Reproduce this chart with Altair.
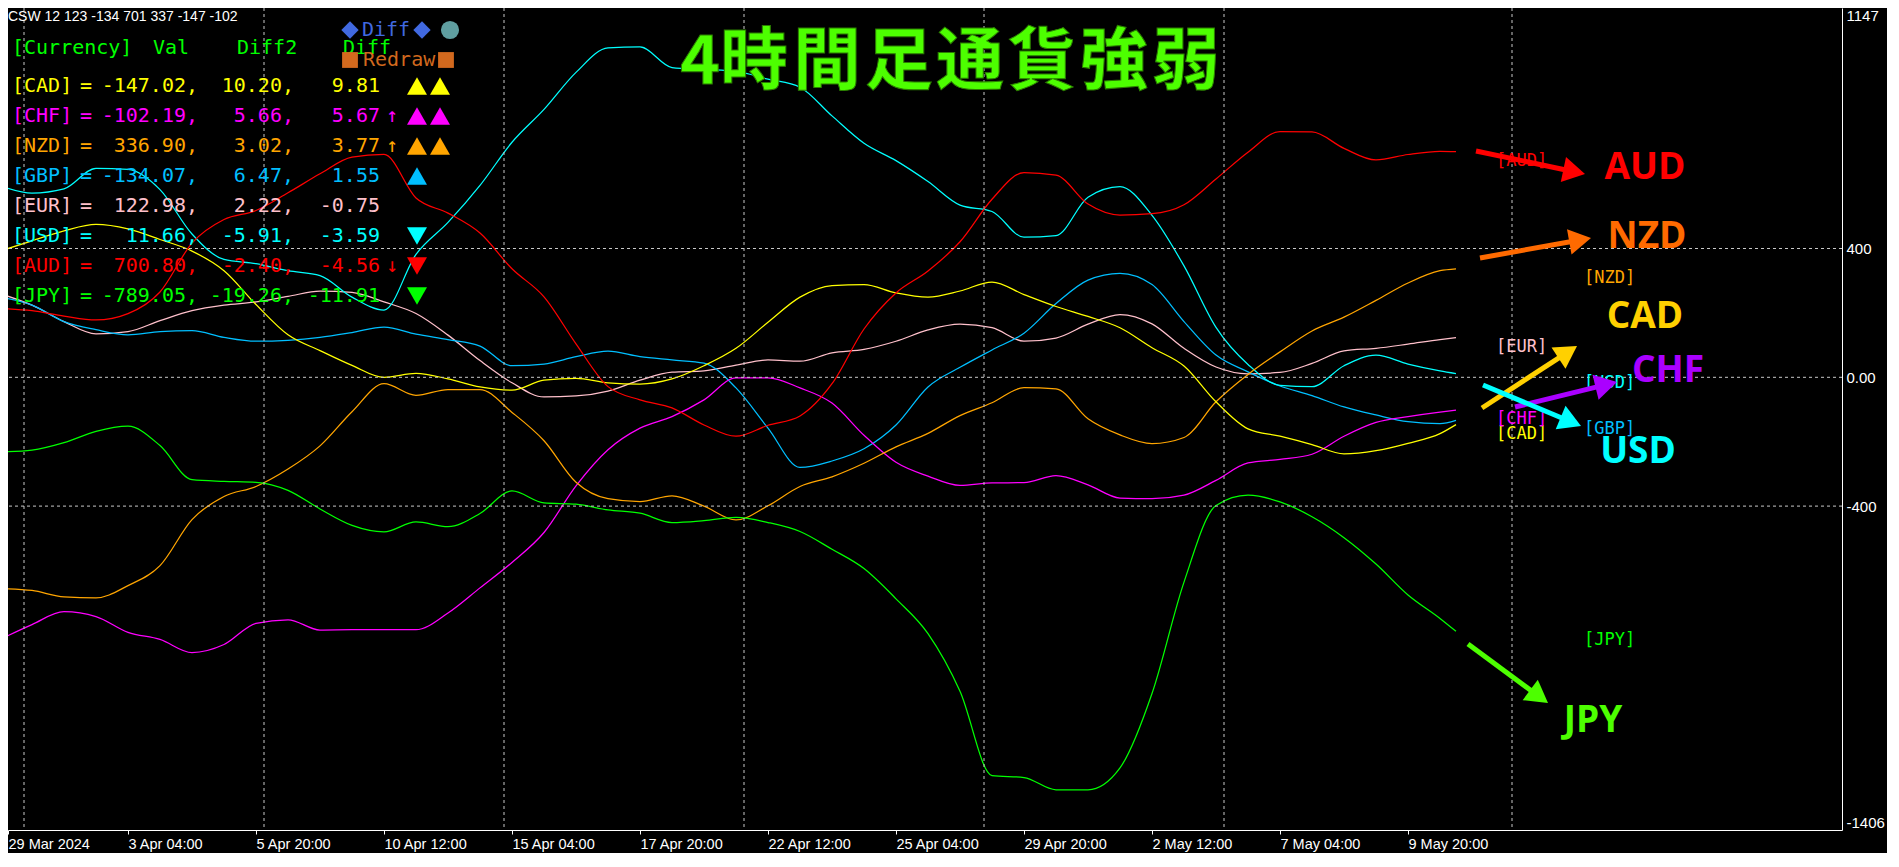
import json
import math
import altair as alt
import pandas as pd

# ------------------------------------------------------------------ data
bars = [0, 4, 8, 12, 16, 20, 24, 28, 32, 36, 40, 44, 48, 52, 56, 60, 64, 68, 72, 76,
        80, 84, 88, 92, 96, 100, 104, 108, 112, 116, 120, 124, 128, 132, 136, 140,
        144, 148, 152, 156, 160, 164, 168, 172, 176, 180, 182]

cad = [392, 424, 455, 475, 461, 428, 392, 331, 226, 132, 83, 37, 0, 12, -5, -30, -40, -9, -3, -17,
       -21, -5, 36, 90, 171, 249, 285, 288, 262, 249, 268, 296, 257, 220, 189, 154, 92, 35, -76, -160,
       -183, -209, -238, -228, -205, -175, -147.02]
chf = [-814, -768, -728, -743, -792, -814, -855, -830, -764, -753, -785, -784, -784, -784, -732, -654,
       -575, -482, -337, -225, -158, -122, -70, -2, -2, -33, -80, -180, -264, -307, -336, -328, -327,
       -305, -334, -375, -377, -366, -320, -266, -255, -239, -183, -140, -122, -108, -102.19]
nzd = [-656, -662, -682, -685, -647, -585, -442, -370, -339, -285, -213, -107, -20, -56, -38, -38,
       -109, -197, -326, -377, -386, -368, -400, -443, -399, -339, -309, -267, -216, -174, -119, -79,
       -32, -36, -129, -179, -206, -187, -76, 9, 79, 144, 187, 239, 293, 331, 336.90]
gbp = [249, 224, 173, 148, 132, 142, 145, 124, 112, 115, 124, 139, 156, 134, 117, 97, 36, 41, 64, 81,
       64, 54, 44, -33, -158, -280, -260, -222, -148, -30, 31, 85, 137, 229, 302, 323, 288, 173, 69, 17,
       -27, -57, -92, -117, -138, -144, -134.07]
eur = [260, 224, 173, 135, 142, 176, 207, 224, 234, 251, 268, 264, 234, 198, 131, 52, -17, -61, -58,
       -43, -9, 16, 20, 38, 54, 50, 76, 87, 112, 147, 165, 154, 112, 122, 165, 195, 166, 90, 32, 11,
       15, 43, 82, 90, 103, 117, 122.98]
usd = [595, 572, 585, 649, 646, 583, 445, 366, 353, 331, 316, 249, 209, 382, 481, 596, 730, 832, 947,
       1023, 1026, 962, 956, 950, 926, 901, 812, 727, 673, 608, 535, 515, 435, 440, 559, 592, 503, 346,
       155, 40, -25, -29, 36, 69, 41, 20, 11.66]
aud = [214, 207, 190, 178, 198, 265, 417, 490, 518, 573, 632, 684, 692, 557, 510, 448, 337, 250, 104,
       -29, -70, -95, -148, -183, -149, -120, -20, 150, 262, 330, 421, 553, 636, 628, 538, 504, 508,
       536, 616, 699, 763, 762, 711, 675, 692, 702, 700.80]
jpy = [-232, -226, -203, -168, -152, -212, -318, -323, -326, -351, -409, -460, -480, -449, -464, -423,
       -353, -390, -394, -412, -422, -451, -445, -435, -451, -479, -534, -594, -688, -796, -975, -1237,
       -1243, -1281, -1281, -1213, -982, -636, -398, -366, -387, -433, -498, -580, -676, -749, -789.05]

currencies = ["CAD", "CHF", "NZD", "GBP", "EUR", "USD", "AUD", "JPY"]
vals = [-147.02, -102.19, 336.90, -134.07, 122.98, 11.66, 700.80, -789.05]
diff2 = [10.20, 5.66, 3.02, 6.47, 2.22, -5.91, -2.40, -19.26]
diff = [9.81, 5.67, 3.77, 1.55, -0.75, -3.59, -4.56, -11.91]
accel = ["", "↑", "↑", "", "", "", "↓", ""]
signals = ["▲▲", "▲▲", "▲▲", "▲", "", "▼", "▼", "▼"]

x_tick_bars = [1, 16, 32, 48, 64, 80, 96, 112, 128, 144, 160, 176]
x_tick_labels = ["29 Mar 2024", "3 Apr 04:00", "5 Apr 20:00", "10 Apr 12:00", "15 Apr 04:00",
                 "17 Apr 20:00", "22 Apr 12:00", "25 Apr 04:00", "29 Apr 20:00", "2 May 12:00",
                 "7 May 04:00", "9 May 20:00"]
y_tick_values = [-1406, -400, 0, 400, 1147]
grid_levels = [-400, 0, 400]
grid_bars = [3, 33, 63, 93, 123, 153, 189]

csw_text = "CSW 12 123 -134 701 337 -147 -102"
title_text = "4時間足通貨強弱"
big_labels = ["AUD", "NZD", "CAD", "CHF", "USD", "JPY"]

# ------------------------------------------------------------------ styles
line_colors = {"CAD": "#FFFF00", "CHF": "#FF00FF", "NZD": "#FFA500", "GBP": "#00BFFF",
               "EUR": "#FFC0CB", "USD": "#00FFFF", "AUD": "#FF0000", "JPY": "#00FF00"}
big_colors = {"AUD": "#FF0000", "NZD": "#FF6A00", "CAD": "#FFD000", "CHF": "#AA00FF",
              "USD": "#00FFFF", "JPY": "#4DFF00"}
MONO = "DejaVu Sans Mono"
SANS = "Liberation Sans"
BIG = "Open Sans"
CJK = "Noto Sans CJK JP"
TS = 20  # table font size
W, H = 1834, 822

series = {"EUR": eur, "GBP": gbp, "USD": usd, "CHF": chf, "NZD": nzd, "CAD": cad, "JPY": jpy, "AUD": aud}
rows = []
for cur, ser in series.items():
    for b, v in zip(bars, ser):
        rows.append({"currency": cur, "bar": b, "value": v})
df = pd.DataFrame(rows)

xscale = alt.Scale(domain=[1, 230.25], nice=False, zero=False)
yscale = alt.Scale(domain=[-1406, 1147], nice=False, zero=False)
cscale = alt.Scale(domain=currencies, range=[line_colors[c] for c in currencies])

label_expr = f"{json.dumps(x_tick_labels)}[indexof({json.dumps(x_tick_bars)}, datum.value)]"
xaxis = alt.Axis(values=x_tick_bars, labelExpr=label_expr, labelAlign="left", labelBaseline="top",
                 labelColor="white", labelFont=SANS, labelFontSize=14.5, labelPadding=3,
                 tickColor="white", tickSize=4, domainColor="white", grid=False, title=None,
                 labelOverlap=False, labelFlush=False)
yaxis = alt.Axis(orient="right", values=y_tick_values,
                 labelExpr="datum.value == 0 ? '0.00' : '' + datum.value",
                 labelFlush=True, tickSize=0, labelPadding=4, labelColor="white", labelFont=SANS,
                 labelFontSize=15, domainColor="white", grid=False, title=None, labelOverlap=False)

lines = alt.Chart(df).mark_line(strokeWidth=1.25, clip=True, interpolate="monotone").encode(
    x=alt.X("bar:Q", scale=xscale, axis=xaxis),
    y=alt.Y("value:Q", scale=yscale, axis=yaxis),
    color=alt.Color("currency:N", scale=cscale, legend=None),
    detail="currency:N",
)
hgrid = alt.Chart(pd.DataFrame({"level": grid_levels})).mark_rule(
    color="#c8c8c8", strokeDash=[3, 3], strokeWidth=1).encode(
    y=alt.Y("level:Q", scale=yscale, axis=yaxis))
vgrid = alt.Chart(pd.DataFrame({"gbar": grid_bars})).mark_rule(
    color="#c8c8c8", strokeDash=[3, 3], strokeWidth=1).encode(
    x=alt.X("gbar:Q", scale=xscale, axis=xaxis))

left_side = {"AUD", "EUR", "CHF", "CAD"}
lab_df = pd.DataFrame({
    "currency": currencies,
    "value": vals,
    "lbar": [187 if c in left_side else 198 for c in currencies],
    "txt": [f"[{c}]" for c in currencies],
})
end_labels = alt.Chart(lab_df).mark_text(align="left", baseline="top", dy=1, font=MONO, fontSize=17).encode(
    x=alt.X("lbar:Q", scale=xscale, axis=xaxis),
    y=alt.Y("value:Q", scale=yscale, axis=yaxis),
    text="txt:N",
    color=alt.Color("currency:N", scale=cscale, legend=None),
)

dummy = alt.Data(values=[{"k": 0}])


def txt(s, x, y, color, size, font, align="left", baseline="middle", weight="normal", **kw):
    return alt.Chart(dummy).mark_text(text=s, align=align, baseline=baseline, font=font, fontSize=size,
                                      fontWeight=weight, color=color, **kw).encode(
        x=alt.value(x), y=alt.value(y))


def sym(shape, x, y, color, size, angle=0.0):
    return alt.Chart(dummy).mark_point(shape=shape, filled=True, size=size, color=color, opacity=1,
                                       strokeWidth=0, angle=angle % 360).encode(
        x=alt.value(x), y=alt.value(y))


def arrow(x1, y1, x2, y2, color, size=650, width=5):
    ang = math.degrees(math.atan2(y2 - y1, x2 - x1)) % 360
    h = math.sqrt(size) / 2 * math.sqrt(3) / 2
    cx = x2 - h * math.cos(math.radians(ang))
    cy = y2 - h * math.sin(math.radians(ang))
    shaft = alt.Chart(dummy).mark_rule(color=color, strokeWidth=width).encode(
        x=alt.value(x1), y=alt.value(y1), x2=alt.value(cx), y2=alt.value(cy))
    return [shaft, sym("triangle-right", cx, cy, color, size, ang)]


ann = []
# top-left caption
ann.append(txt(csw_text, 0, 9, "white", 14, SANS))
# table header
ann.append(txt("[Currency]", 4, 40, "#00FF00", TS, MONO))
ann.append(txt("Val", 145, 40, "#00FF00", TS, MONO))
ann.append(txt("Diff2", 229, 40, "#00FF00", TS, MONO))
ann.append(txt("Diff", 335, 40, "#00FF00", TS, MONO))
# buttons
ann.append(sym("diamond", 342, 22, "#4169E1", 300))
ann.append(txt("Diff", 354, 22, "#4169E1", TS, MONO))
ann.append(sym("diamond", 414, 22, "#4169E1", 300))
ann.append(sym("circle", 442, 22, "#5F9EA0", 330))
ann.append(sym("square", 342, 52, "#D2691E", 250))
ann.append(txt("Redraw", 355, 52, "#D2691E", TS, MONO))
ann.append(sym("square", 438, 52, "#D2691E", 250))
# table rows
for i, c in enumerate(currencies):
    y = 78 + 30 * i
    col = line_colors[c]
    ann.append(txt(f"[{c}]", 4, y, col, TS, MONO))
    ann.append(txt("=", 78, y, col, TS, MONO, align="center"))
    ann.append(txt(f"{vals[i]:.2f},", 190, y, col, TS, MONO, align="right"))
    ann.append(txt(f"{diff2[i]:.2f},", 286, y, col, TS, MONO, align="right"))
    ann.append(txt(f"{diff[i]:.2f}", 372, y, col, TS, MONO, align="right"))
    if accel[i]:
        ann.append(txt(accel[i], 384, y, col, TS, MONO, align="center"))
    for j, ch in enumerate(signals[i]):
        shape = "triangle-up" if ch == "▲" else "triangle-down"
        ann.append(sym(shape, 409 + 23 * j, y, col, 400))

# title, one glyph at a time to reproduce its letter spacing
title_centres = [692, 746, 819, 891, 962, 1034, 1106, 1178]
for ch, cx in zip(title_text, title_centres):
    ann.append(txt(ch, cx, 76, "#4DFF00", 68, CJK, align="center", baseline="alphabetic",
                   weight="bold", stroke="#2B7D00", strokeWidth=1))

# arrows and big labels on the right
arrow_geo = {
    "AUD": ((1468, 143), (1577, 166), (1637, 160)),
    "NZD": ((1472, 250), (1583, 230), (1639, 229)),
    "CAD": ((1474, 400), (1569, 338), (1637, 309)),
    "CHF": ((1507, 399), (1609, 374), (1660, 363)),
    "USD": ((1475, 377), (1573, 418), (1630, 444)),
    "JPY": ((1460, 636), (1540, 695), (1585, 713)),
}
for name in big_labels:
    (x1, y1), (x2, y2), (tx, ty) = arrow_geo[name]
    ann.extend(arrow(x1, y1, x2, y2, big_colors[name]))
for name in big_labels:
    (x1, y1), (x2, y2), (tx, ty) = arrow_geo[name]
    ann.append(txt(name, tx, ty, big_colors[name], 37, BIG, align="center", weight="bold"))

chart = alt.layer(lines, hgrid, vgrid, end_labels, *ann).properties(
    width=W, height=H, background="black",
    padding={"left": 0, "top": 0, "right": 45, "bottom": 23},
    autosize=alt.AutoSizeParams(type="none"),
).configure_view(stroke=None, fill="black")

chart.save("out.html", embed_options={"renderer": "svg", "actions": False})
